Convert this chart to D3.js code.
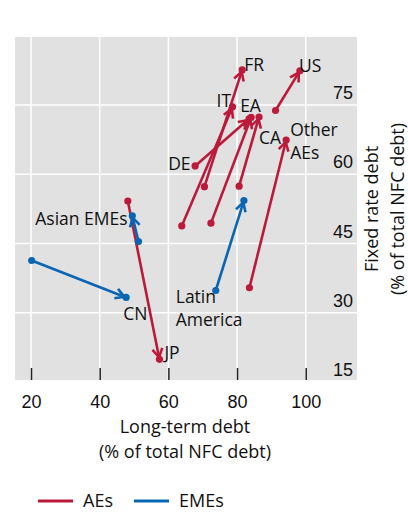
<!DOCTYPE html>
<html>
<head>
<meta charset="utf-8">
<script src="https://cdn.jsdelivr.net/npm/d3@7"></script>
<style>
  html, body { margin: 0; padding: 0; background: #ffffff; }
  svg { display: block; font-family: "Open Sans", "Noto Sans", sans-serif; }
</style>
</head>
<body>
<svg id="chart" width="408" height="512"></svg>
<script>
// ---- Data ----
const names  = ["FR", "US", "IT", "EA", "DE", "CA", "Other AEs", "JP", "Asian EMEs", "CN", "Latin America"];
const groups = ["AEs", "AEs", "AEs", "AEs", "AEs", "AEs", "AEs", "AEs", "EMEs", "EMEs", "EMEs"];
const longTermStart  = [70.5, 91.2, 63.9, 72.4, 67.8, 80.6, 83.6, 48.2, 51.3, 20.2, 73.8];
const fixedRateStart = [57.3, 73.8, 48.8, 49.4, 61.8, 57.4, 35.4, 54.2, 45.4, 41.3, 34.8];
const longTermEnd    = [81.5, 98.3, 78.7, 84.1, 83.5, 86.4, 94.3, 57.4, 49.5, 47.7, 82.0];
const fixedRateEnd   = [82.6, 82.4, 74.6, 72.3, 72.0, 72.4, 67.4, 19.9, 51.0, 33.3, 54.3];
const xTicks = [20, 40, 60, 80, 100];
const yTicks = [15, 30, 45, 60, 75];
const legendItems = ["AEs", "EMEs"];

// ---- Styles / layout ----
const colors = { AEs: "#bb1a3a", EMEs: "#0a66b3" };
const panel = { left: 15, right: 357, top: 37, bottom: 380 };
// label placement: offset (px) from arrow end (or start), text lines
const labelLayout = {
  "FR": { dx: 2, dy: -5, lines: ["FR"] },
  "US": { dx: -1, dy: -5, lines: ["US"] },
  "IT": { dx: -16, dy: -6, lines: ["IT"] },
  "EA": { dx: -11, dy: -11, lines: ["EA"] },
  "DE": { dx: -27, dy: -2, lines: ["DE"], from: "start" },
  "CA": { dx: 0, dy: 21, lines: ["CA"] },
  "Other AEs": { dx: 4, dy: -10, lines: ["Other", "AEs"] },
  "JP": { dx: 5, dy: -6, lines: ["JP"] },
  "Asian EMEs": { dx: -97, dy: 3, lines: ["Asian EMEs"] },
  "CN": { dx: -3, dy: 17, lines: ["CN"] },
  "Latin America": { dx: -40, dy: 6, lines: ["Latin", "America"], from: "start" }
};

const svg = d3.select("#chart");

const x = d3.scaleLinear().domain([15.34, 114.93]).range([panel.left, panel.right]);
const y = d3.scaleLinear().domain([15.41, 89.73]).range([panel.bottom, panel.top]);

// panel background
svg.append("rect")
  .attr("x", panel.left).attr("y", panel.top)
  .attr("width", panel.right - panel.left).attr("height", panel.bottom - panel.top)
  .attr("fill", "#e1e1e1");

// gridlines
const grid = svg.append("g");
grid.selectAll("line.h").data(yTicks.filter(v => y(v) > panel.top && y(v) < panel.bottom))
  .join("line").attr("class", "h")
  .attr("x1", panel.left).attr("x2", panel.right)
  .attr("y1", d => y(d)).attr("y2", d => y(d))
  .attr("stroke", "#ffffff").attr("stroke-width", 1.5);
grid.selectAll("line.v").data(xTicks)
  .join("line").attr("class", "v")
  .attr("x1", d => x(d)).attr("x2", d => x(d))
  .attr("y1", panel.top).attr("y2", panel.bottom)
  .attr("stroke", "#ffffff").attr("stroke-width", 1.5);

// x axis (ticks inside panel at bottom)
const xAxis = d3.axisBottom(x).tickValues(xTicks).tickSize(-12).tickPadding(24).tickFormat(d3.format("d"));
const gx = svg.append("g").attr("transform", `translate(0,${panel.bottom})`).call(xAxis);
gx.select(".domain").remove();
gx.selectAll(".tick line").attr("stroke", "#222").attr("stroke-width", 1.5);
gx.selectAll(".tick text").attr("font-size", 18).attr("fill", "#111").attr("dy", 0).attr("y", 28);

// y axis labels (inside panel, right, above gridline)
const yAxis = d3.axisRight(y).tickValues(yTicks).tickSize(0).tickPadding(0).tickFormat(d3.format("d"));
const gy = svg.append("g").attr("transform", `translate(${panel.right - 4},0)`).call(yAxis);
gy.select(".domain").remove();
gy.selectAll(".tick text")
  .attr("text-anchor", "end").attr("x", 0).attr("dy", "-0.35em")
  .attr("font-size", 18).attr("fill", "#111");

// axis titles
svg.append("text").attr("x", 185).attr("y", 433).attr("text-anchor", "middle")
  .attr("font-size", 18).attr("fill", "#111").text("Long-term debt");
svg.append("text").attr("x", 185).attr("y", 458).attr("text-anchor", "middle")
  .attr("font-size", 18).attr("fill", "#111").text("(% of total NFC debt)");
svg.append("text").attr("transform", "translate(378,209) rotate(-90)").attr("text-anchor", "middle")
  .attr("font-size", 18).attr("fill", "#111").text("Fixed rate debt");
svg.append("text").attr("transform", "translate(404,209) rotate(-90)").attr("text-anchor", "middle")
  .attr("font-size", 18).attr("fill", "#111").text("(% of total NFC debt)");

// arrows
const series = names.map((n, i) => ({
  name: n, group: groups[i],
  x0: longTermStart[i], y0: fixedRateStart[i],
  x1: longTermEnd[i], y1: fixedRateEnd[i]
}));

const marks = svg.append("g");
series.forEach(s => {
  const c = colors[s.group];
  const g = marks.append("g");
  const X0 = x(s.x0), Y0 = y(s.y0), X1 = x(s.x1), Y1 = y(s.y1);
  g.append("line").attr("x1", X0).attr("y1", Y0).attr("x2", X1).attr("y2", Y1)
    .attr("stroke", c).attr("stroke-width", 2.6);
  g.append("circle").attr("cx", X0).attr("cy", Y0).attr("r", 3.6).attr("fill", c);
  g.append("circle").attr("cx", X1).attr("cy", Y1).attr("r", 3.6).attr("fill", c);
  // chevron arrowhead
  const ang = Math.atan2(Y1 - Y0, X1 - X0);
  const len = 10, spread = Math.PI / 6;
  const tipX = X1 - Math.cos(ang) * 2, tipY = Y1 - Math.sin(ang) * 2;
  const p1 = [tipX - len * Math.cos(ang - spread), tipY - len * Math.sin(ang - spread)];
  const p2 = [tipX - len * Math.cos(ang + spread), tipY - len * Math.sin(ang + spread)];
  g.append("path").attr("d", `M${p1[0]},${p1[1]}L${tipX},${tipY}L${p2[0]},${p2[1]}`)
    .attr("fill", "none").attr("stroke", c).attr("stroke-width", 2.6)
    .attr("stroke-linejoin", "miter").attr("stroke-linecap", "butt");
});

// labels
const labels = svg.append("g");
series.forEach(s => {
  const L = labelLayout[s.name];
  const ax = L.from === "start" ? x(s.x0) : x(s.x1);
  const ay = L.from === "start" ? y(s.y0) : y(s.y1);
  const t = labels.append("text").attr("font-size", 17.5).attr("fill", "#111");
  L.lines.forEach((ln, k) => {
    t.append("tspan").attr("x", ax + L.dx).attr("y", ay + L.dy + 6 + k * 23).text(ln);
  });
});

// legend
const leg = svg.append("g");
const legX = [38, 134];
legendItems.forEach((k, i) => {
  leg.append("line").attr("x1", legX[i]).attr("x2", legX[i] + 35).attr("y1", 501).attr("y2", 501)
    .attr("stroke", colors[k]).attr("stroke-width", 3);
  leg.append("text").attr("x", legX[i] + 45).attr("y", 507).attr("font-size", 18).attr("fill", "#111").text(k);
});
</script>
</body>
</html>
